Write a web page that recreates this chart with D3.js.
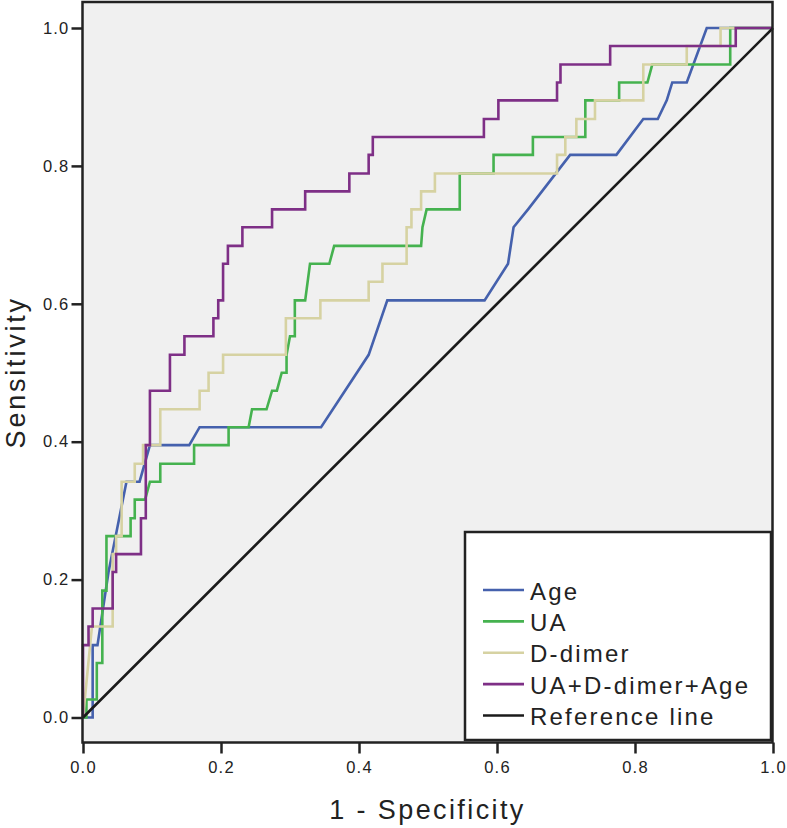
<!DOCTYPE html>
<html>
<head>
<meta charset="utf-8">
<script src="https://cdn.jsdelivr.net/npm/d3@7"></script>
<style>
  body { margin: 0; background: #fff; }
  svg text { font-family: "Liberation Sans", Arial, sans-serif; fill: #222; }
</style>
</head>
<body>
<svg id="roc" width="787" height="828"></svg>
<script>
// ROC curves, points as [1 - specificity, sensitivity]
const ageCurve = [[0,0],[0.014,0],[0.014,0.105],[0.021,0.105],[0.037,0.211],[0.063,0.342],[0.082,0.342],[0.097,0.395],[0.154,0.395],[0.169,0.421],[0.345,0.421],[0.414,0.526],[0.441,0.605],[0.582,0.605],[0.616,0.658],[0.624,0.711],[0.645,0.737],[0.706,0.816],[0.773,0.816],[0.812,0.868],[0.833,0.868],[0.846,0.895],[0.854,0.921],[0.875,0.921],[0.904,1],[1,1]];

const uaCurve = [[0,0],[0.005,0],[0.005,0.026],[0.020,0.026],[0.020,0.079],[0.028,0.079],[0.028,0.184],[0.034,0.184],[0.034,0.263],[0.069,0.263],[0.069,0.289],[0.075,0.289],[0.075,0.316],[0.090,0.316],[0.097,0.342],[0.112,0.342],[0.112,0.368],[0.161,0.368],[0.161,0.395],[0.211,0.395],[0.211,0.421],[0.240,0.421],[0.245,0.447],[0.266,0.447],[0.274,0.474],[0.281,0.474],[0.288,0.5],[0.295,0.5],[0.295,0.526],[0.300,0.553],[0.307,0.553],[0.307,0.605],[0.322,0.605],[0.329,0.658],[0.357,0.658],[0.364,0.684],[0.490,0.684],[0.492,0.711],[0.498,0.737],[0.546,0.737],[0.546,0.789],[0.595,0.789],[0.595,0.816],[0.652,0.816],[0.652,0.842],[0.728,0.842],[0.728,0.895],[0.777,0.895],[0.777,0.921],[0.818,0.921],[0.825,0.947],[0.938,0.947],[0.938,1],[1,1]];

const ddimerCurve = [[0,0],[0.013,0.132],[0.043,0.132],[0.043,0.237],[0.048,0.237],[0.048,0.263],[0.056,0.263],[0.056,0.342],[0.075,0.342],[0.075,0.368],[0.087,0.368],[0.087,0.395],[0.112,0.395],[0.112,0.447],[0.169,0.447],[0.169,0.474],[0.182,0.474],[0.182,0.5],[0.203,0.5],[0.203,0.526],[0.294,0.526],[0.294,0.579],[0.344,0.579],[0.344,0.605],[0.414,0.605],[0.414,0.632],[0.434,0.632],[0.434,0.658],[0.469,0.658],[0.469,0.711],[0.476,0.711],[0.476,0.737],[0.490,0.737],[0.490,0.763],[0.510,0.763],[0.510,0.789],[0.687,0.789],[0.687,0.816],[0.699,0.816],[0.699,0.842],[0.715,0.842],[0.715,0.868],[0.742,0.868],[0.742,0.895],[0.812,0.895],[0.812,0.947],[0.875,0.947],[0.875,0.974],[0.924,0.974],[0.924,1],[1,1]];

const comboCurve = [[0,0],[0,0.105],[0.008,0.105],[0.008,0.132],[0.014,0.132],[0.014,0.158],[0.043,0.158],[0.043,0.211],[0.048,0.211],[0.048,0.237],[0.084,0.237],[0.084,0.289],[0.091,0.289],[0.091,0.395],[0.097,0.395],[0.097,0.474],[0.126,0.474],[0.126,0.526],[0.147,0.526],[0.147,0.553],[0.189,0.553],[0.189,0.579],[0.196,0.579],[0.196,0.605],[0.203,0.605],[0.203,0.658],[0.210,0.658],[0.210,0.684],[0.231,0.684],[0.231,0.711],[0.274,0.711],[0.274,0.737],[0.322,0.737],[0.322,0.763],[0.386,0.763],[0.386,0.789],[0.414,0.789],[0.414,0.816],[0.420,0.816],[0.420,0.842],[0.581,0.842],[0.581,0.868],[0.602,0.868],[0.602,0.895],[0.687,0.895],[0.687,0.921],[0.692,0.921],[0.692,0.947],[0.764,0.947],[0.764,0.974],[0.946,0.974],[0.946,1],[1,1]];

const referenceLine = [[0,0],[1,1]];

const seriesNames = ["Age", "UA", "D-dimer", "UA+D-dimer+Age", "Reference line"];
const seriesColors = ["#4561ad", "#45b24f", "#d6d2a2", "#7e2f86", "#1a1a1a"];
const tickValues = [0, 0.2, 0.4, 0.6, 0.8, 1.0];

const svg = d3.select("#roc");
const frame = { left: 82.5, right: 772.5, top: 2, bottom: 742.5 };

const xScale = d3.scaleLinear().domain([0, 1]).range([83, 773]);
const yScale = d3.scaleLinear().domain([0, 1]).range([717.5, 28]);

// plot background
svg.append("rect")
    .attr("x", frame.left)
    .attr("y", frame.top)
    .attr("width", frame.right - frame.left)
    .attr("height", frame.bottom - frame.top)
    .attr("fill", "#f0f0f0");

// axes
const yAxis = svg.append("g")
    .attr("transform", `translate(${frame.left},0)`)
    .call(d3.axisLeft(yScale).tickValues(tickValues).tickFormat(d3.format(".1f")).tickSize(11).tickPadding(2));
const xAxis = svg.append("g")
    .attr("transform", `translate(0,${frame.bottom})`)
    .call(d3.axisBottom(xScale).tickValues(tickValues).tickFormat(d3.format(".1f")).tickSize(11).tickPadding(8));

[xAxis, yAxis].forEach(g => {
    g.select(".domain").remove();
    g.selectAll(".tick line").attr("stroke", "#222").attr("stroke-width", 2.5);
    g.selectAll(".tick text")
        .attr("font-size", 16.5)
        .attr("letter-spacing", "1.2px")
        .attr("fill", "#222")
        .style("font-family", "'Liberation Sans', Arial, sans-serif");
});

// curves
const line = d3.line()
    .x(d => xScale(d[0]))
    .y(d => yScale(d[1]));

const curves = [ageCurve, uaCurve, ddimerCurve, comboCurve, referenceLine];
curves.forEach((data, i) => {
    svg.append("path")
        .datum(data)
        .attr("fill", "none")
        .attr("stroke", seriesColors[i])
        .attr("stroke-width", 2.6)
        .attr("d", line);
});

// frame border on top
svg.append("rect")
    .attr("x", frame.left)
    .attr("y", frame.top)
    .attr("width", frame.right - frame.left)
    .attr("height", frame.bottom - frame.top)
    .attr("fill", "none")
    .attr("stroke", "#222")
    .attr("stroke-width", 2.5);

// legend
const legend = svg.append("g");
legend.append("rect")
    .attr("x", 465)
    .attr("y", 532)
    .attr("width", 306)
    .attr("height", 208)
    .attr("fill", "#ffffff")
    .attr("stroke", "#222")
    .attr("stroke-width", 2.5);

const legendY = d3.scaleLinear().domain([0, 4]).range([590, 715.5]);
seriesNames.forEach((name, i) => {
    const y = legendY(i);
    legend.append("line")
        .attr("x1", 483).attr("x2", 524)
        .attr("y1", y).attr("y2", y)
        .attr("stroke", seriesColors[i])
        .attr("stroke-width", 2.6);
    legend.append("text")
        .attr("x", 530)
        .attr("y", y + 9.5)
        .attr("font-size", 24)
        .attr("letter-spacing", "2.2px")
        .text(name);
});

// axis titles
svg.append("text")
    .attr("x", (frame.left + frame.right) / 2)
    .attr("y", 819)
    .attr("text-anchor", "middle")
    .attr("font-size", 27)
    .attr("letter-spacing", "2.4px")
    .text("1 - Specificity");

svg.append("text")
    .attr("transform", `translate(25, ${(frame.top + frame.bottom) / 2}) rotate(-90)`)
    .attr("text-anchor", "middle")
    .attr("font-size", 27)
    .attr("letter-spacing", "2.8px")
    .text("Sensitivity");
</script>
</body>
</html>
